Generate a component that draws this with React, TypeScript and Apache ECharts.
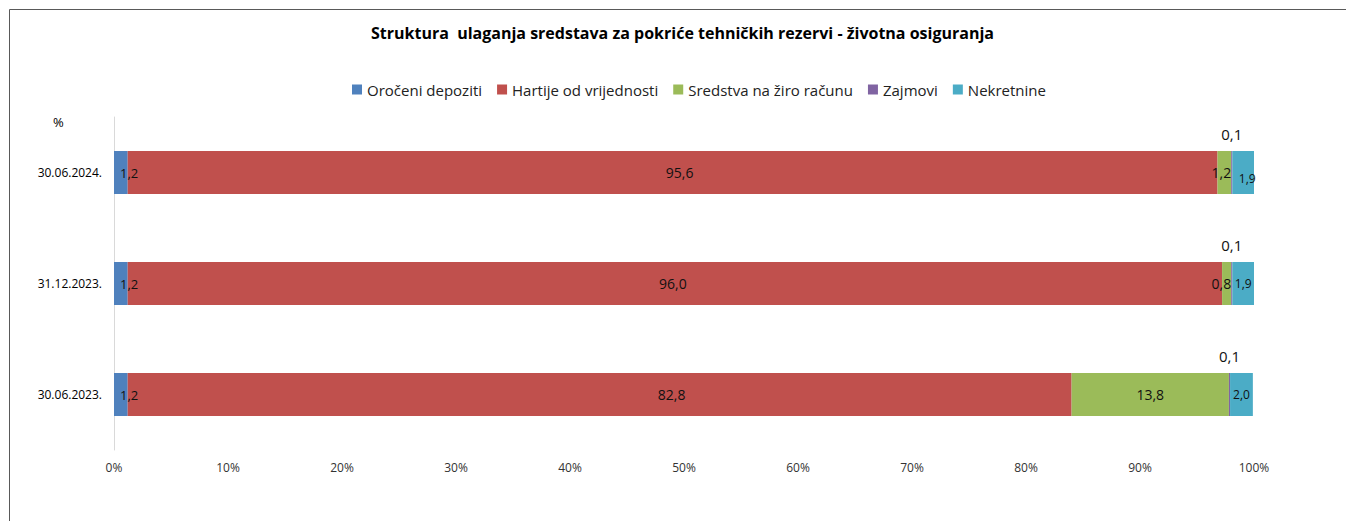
import React, { useEffect, useRef } from "react";
import * as echarts from "echarts";

const categories = ["30.06.2024.", "31.12.2023.", "30.06.2023."];
const seriesNames = ["Oročeni depoziti", "Hartije od vrijednosti", "Sredstva na žiro računu", "Zajmovi", "Nekretnine"];
const orocheni = [1.2, 1.2, 1.2];
const hartije = [95.6, 96.0, 82.8];
const sredstva = [1.2, 0.8, 13.8];
const zajmovi = [0.1, 0.1, 0.1];
const nekretnine = [1.9, 1.9, 2.0];
const xTicks = [0, 10, 20, 30, 40, 50, 60, 70, 80, 90, 100];
const colors = ["#4F81BD", "#C0504D", "#9BBB59", "#8064A2", "#4BACC6"];

const FONT = "'Open Sans', 'Noto Sans', sans-serif";
const fmt = (v: number) => v.toFixed(1).replace(".", ",");

export default function App() {
  const ref = useRef<HTMLDivElement>(null);
  useEffect(() => {
    document.body.style.margin = "0";
    const chart = echarts.init(ref.current!, null, { renderer: "svg" });
    const lbl = (extra: any = {}) => ({
      show: true,
      color: "#111",
      fontFamily: FONT,
      fontSize: 13,
      formatter: (p: any) => fmt(p.value),
      ...extra,
    });
    const data = [orocheni, hartije, sredstva, zajmovi, nekretnine];
    const redOffsets = [7, -2, 72];
    const tealOffsets = [[4, 6], [0, 0], [0, 0]];
    const series = data.map((arr, i) => {
      let label: any;
      let values: any[] = arr;
      if (i === 0) label = lbl({ position: "insideLeft", distance: 6 });
      else if (i === 1) {
        label = lbl({ position: "inside", fontSize: 14 });
        values = arr.map((v, j) => ({ value: v, label: { offset: [redOffsets[j], 0] } }));
      } else if (i === 2) {
        label = lbl({ position: "inside", fontSize: 14 });
        values = arr.map((v, j) => ({
          value: v,
          label: j < 2 ? { position: "insideRight", distance: 0 } : { position: "inside" },
        }));
      } else if (i === 3) label = lbl({ position: "top", distance: 10, fontSize: 15 });
      else {
        label = lbl({ position: "inside", fontSize: 12 });
        values = arr.map((v, j) => ({ value: v, label: { offset: tealOffsets[j] } }));
      }
      return {
        name: seriesNames[i],
        type: "bar",
        stack: "total",
        barWidth: 43,
        itemStyle: { color: colors[i] },
        label,
        data: values,
      };
    });
    chart.setOption({
      animation: false,
      color: colors,
      title: {
        text: "Struktura  ulaganja sredstava za pokriće tehničkih rezervi - životna osiguranja",
        left: 366,
        top: 20,
        textStyle: { fontFamily: FONT, fontSize: 16, fontWeight: "bold", color: "#000" },
      },
      legend: {
        top: 77,
        left: 347,
        itemWidth: 10,
        itemHeight: 10,
        itemGap: 15,
        icon: "rect",
        textStyle: { fontFamily: FONT, fontSize: 15, color: "#222" },
        data: seriesNames,
      },
      grid: { left: 114, right: 92, top: 117, bottom: 71, containLabel: false },
      xAxis: {
        type: "value",
        min: 0,
        max: 100,
        interval: 10,
        axisLine: { show: false },
        axisTick: { show: false },
        splitLine: { show: false },
        axisLabel: {
          fontFamily: FONT,
          fontSize: 12,
          color: "#333",
          margin: 11,
          formatter: (v: number) => (xTicks.includes(v) ? v + "%" : ""),
        },
      },
      yAxis: {
        type: "category",
        inverse: true,
        data: categories,
        axisLine: { show: true, lineStyle: { color: "#D9D9D9", width: 1 } },
        axisTick: { show: false },
        axisLabel: { fontFamily: FONT, fontSize: 12, color: "#000", margin: 12 },
      },
      graphic: [
        { type: "line", shape: { x1: 9.5, y1: 9.5, x2: 1346, y2: 9.5 }, style: { stroke: "#595959", lineWidth: 1 } },
        { type: "line", shape: { x1: 9.5, y1: 9.5, x2: 9.5, y2: 521 }, style: { stroke: "#595959", lineWidth: 1 } },
        { type: "text", left: 53, top: 115, style: { text: "%", fontFamily: FONT, fontSize: 13, fill: "#000" } },
      ],
      series,
    });
    return () => chart.dispose();
  }, []);
  return <div ref={ref} style={{ width: 1346, height: 521, background: "#fff" }} />;
}
